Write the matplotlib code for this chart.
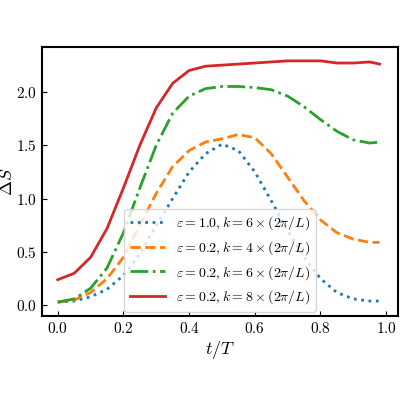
import matplotlib
matplotlib.use('Agg')
import matplotlib.pyplot as plt

plt.rcParams['font.family'] = ['cmr10']
plt.rcParams['mathtext.fontset'] = 'cm'
plt.rcParams['axes.formatter.use_mathtext'] = True
plt.rcParams['axes.unicode_minus'] = False

t = [0, 0.05, 0.1, 0.15, 0.2, 0.25, 0.3, 0.35, 0.4, 0.45, 0.5, 0.55, 0.6, 0.65, 0.7, 0.75, 0.8, 0.85, 0.9, 0.95, 0.98]
blue = [0.03, 0.04, 0.08, 0.15, 0.28, 0.48, 0.75, 1.0, 1.25, 1.42, 1.51, 1.45, 1.25, 0.98, 0.7, 0.45, 0.25, 0.12, 0.06, 0.04, 0.04]
orange = [0.03, 0.05, 0.12, 0.25, 0.45, 0.75, 1.05, 1.3, 1.45, 1.53, 1.56, 1.6, 1.57, 1.42, 1.2, 0.98, 0.8, 0.68, 0.62, 0.59, 0.59]
green = [0.03, 0.06, 0.16, 0.35, 0.68, 1.1, 1.5, 1.8, 1.96, 2.03, 2.05, 2.05, 2.04, 2.02, 1.96, 1.86, 1.74, 1.63, 1.55, 1.52, 1.53]
red = [0.24, 0.3, 0.45, 0.72, 1.1, 1.5, 1.85, 2.08, 2.2, 2.24, 2.25, 2.26, 2.27, 2.28, 2.29, 2.29, 2.29, 2.27, 2.27, 2.28, 2.26]
labels = [r'$\varepsilon=1.0, k=6\times(2\pi/L)$', r'$\varepsilon=0.2, k=4\times(2\pi/L)$',
          r'$\varepsilon=0.2, k=6\times(2\pi/L)$', r'$\varepsilon=0.2, k=8\times(2\pi/L)$']

fig = plt.figure(figsize=(4, 4), dpi=100)
ax = fig.add_axes([0.105, 0.21, 0.89, 0.6725])
ax.plot(t, blue, ':', color='#1f77b4', lw=2, label=labels[0])
ax.plot(t, orange, '--', color='#ff7f0e', lw=2, label=labels[1])
ax.plot(t, green, '-.', color='#2ca02c', lw=2, label=labels[2])
ax.plot(t, red, '-', color='#d62728', lw=2, label=labels[3])
ax.set_xlim(-0.048, 1.036)
ax.set_ylim(-0.10, 2.42)
ax.set_xticks([0, 0.2, 0.4, 0.6, 0.8, 1.0])
ax.set_yticks([0, 0.5, 1.0, 1.5, 2.0])
ax.tick_params(direction='in', labelsize=11)
ax.set_xlabel(r'$t/T$', fontsize=13, labelpad=2)
ax.set_ylabel(r'$\Delta S$', fontsize=13, labelpad=1)
for s in ax.spines.values():
    s.set_linewidth(1.5)
ax.legend(loc='lower center', bbox_to_anchor=(0.5, 0.0), fontsize=10, frameon=True,
          borderaxespad=0.3, handlelength=2.5)
fig.savefig('out.png', dpi=100)
